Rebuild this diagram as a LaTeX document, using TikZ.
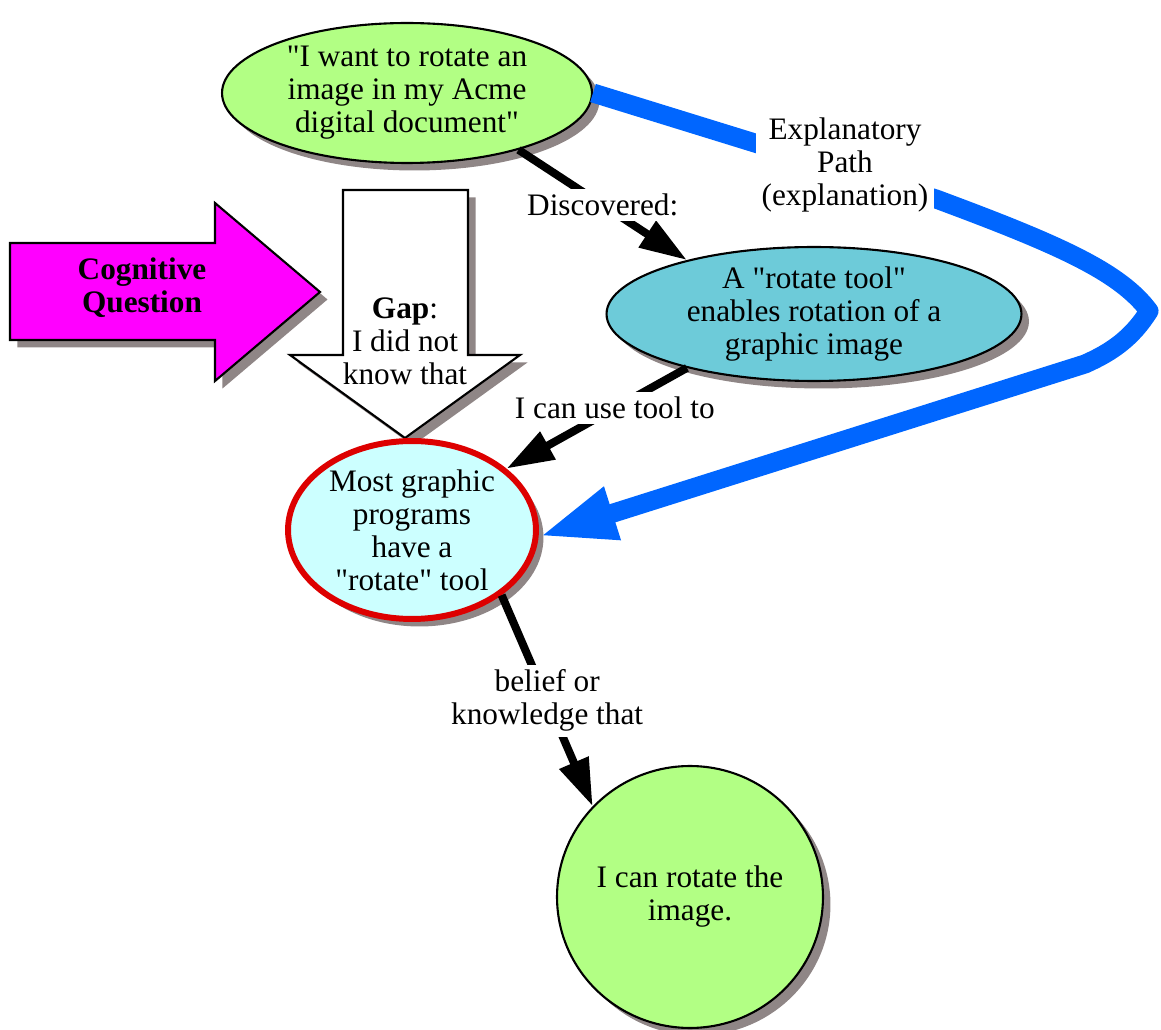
\documentclass[tikz,border=0pt]{standalone}
\usepackage{fontspec}
\setmainfont{Liberation Serif}[Ligatures=TeXOff]
\usetikzlibrary{arrows.meta,shapes.geometric,shadows}

\definecolor{leafgreen}{HTML}{B2FF84}
\definecolor{tealfill}{HTML}{6DCBD9}
\definecolor{palecyan}{HTML}{CCFFFF}
\definecolor{alertred}{HTML}{DD0000}
\definecolor{pathblue}{HTML}{0066FF}
\definecolor{brightmagenta}{HTML}{FF00FF}
\definecolor{shadowgray}{HTML}{8F8686}

\begin{document}
\begin{tikzpicture}[
  x=0.02cm, y=-0.02cm,
  every node/.style={font=\fontsize{17.8}{18.8}\selectfont, align=center},
  castshadow/.style={drop shadow={shadow xshift=0.15cm, shadow yshift=-0.15cm,
    fill=shadowgray, opacity=1}},
  bubble/.style={ellipse, draw, line width=1.2pt, inner sep=0pt, castshadow},
  bigarrow/.style={draw, line width=1.2pt, line join=miter, castshadow},
  link/.style={line width=0.16cm, -{Triangle[length=0.95cm, width=0.6cm]}},
  linklabel/.style={fill=white, inner sep=3pt},
  explainpath/.style={pathblue, line width=0.38cm, line join=round,
    -{Triangle[length=1.55cm, width=1.0cm]}}
]
\useasboundingbox (0,0) rectangle (1161,1030);

% big block arrows
\path[bigarrow, fill=white] (343,190) -- (468,190) -- (468,355) -- (520,355)
  -- (405,438) -- (290,355) -- (343,355) -- cycle;
\node (gap) at (405,341) {\textbf{Gap}:\\I did not\\know that};
\path[bigarrow, fill=brightmagenta] (10,243) -- (215,243) -- (215,203) -- (320,292)
  -- (215,381) -- (215,340) -- (10,340) -- cycle;
\node[font=\fontsize{17.8}{18.8}\selectfont\bfseries] (cogq) at (142,288)
  {Cognitive\\Question};

% ellipses
\node[bubble, fill=leafgreen, minimum width=7.4cm, minimum height=2.8cm]
  (want) at (407,93) {"I want to rotate an\\image in my Acme\\digital document"};
\node[bubble, fill=tealfill, minimum width=8.3cm, minimum height=2.68cm]
  (rtool) at (814,314) {A "rotate tool"\\enables rotation of a\\graphic image};
\node[bubble, fill=palecyan, draw=alertred, line width=3.4pt,
  minimum width=4.96cm, minimum height=3.56cm]
  (graphic) at (412,530) {Most graphic\\programs\\have a\\"rotate" tool};
\node[bubble, fill=leafgreen, minimum width=5.32cm, minimum height=5.24cm]
  (result) at (690,897) {I can rotate the\\image.};

% explanatory path
\draw[explainpath] (want.east) -- (936,199)
  .. controls (1060,245) and (1120,272) .. (1149,311)
  .. controls (1132,338) and (1112,352) .. (1085,364) -- (graphic.-3);
\node[linklabel] (expl) at (845,165) {Explanatory\\Path\\(explanation)};

% links
\draw[link] (want.-27) -- node[linklabel] {Discovered:} (rtool.157);
\draw[link] (rtool.203) -- node[linklabel, pos=0.4] {I can use tool to} (graphic.33);
\draw[link] (graphic.-36) -- node[linklabel] {belief or\\knowledge that} (result.137);
\end{tikzpicture}
\end{document}
